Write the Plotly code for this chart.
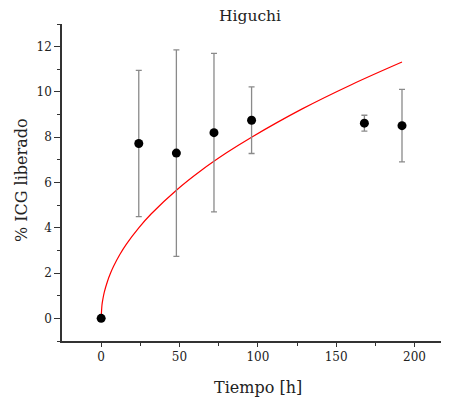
import plotly.graph_objects as go

# Experimental data
time_h = [0, 24, 48, 72, 96, 168, 192]
icg_pct = [0.0, 7.72, 7.30, 8.20, 8.75, 8.62, 8.51]
icg_err = [0.0, 3.23, 4.56, 3.50, 1.47, 0.35, 1.60]

# Higuchi fit curve
fit_t = [0, 0.5, 1, 2, 4, 6, 8, 12, 16, 24, 32, 48, 64, 80, 96, 128, 160, 192]
fit_y = [0, 0.58, 0.82, 1.16, 1.63, 2.0, 2.31, 2.83, 3.27, 4.0, 4.62, 5.66, 6.54, 7.31, 8.0, 9.24, 10.33, 11.32]

x_ticks = [0, 50, 100, 150, 200]
y_ticks = [0, 2, 4, 6, 8, 10, 12]

FONT = "DejaVu Serif"
TXT = "#222"

fig = go.Figure()
fig.add_trace(go.Scatter(
    x=fit_t, y=fit_y, mode="lines",
    line=dict(color="#ff0000", width=1.2, shape="spline"),
    showlegend=False, hoverinfo="skip"))
fig.add_trace(go.Scatter(
    x=time_h, y=icg_pct, mode="markers",
    marker=dict(color="black", size=9),
    error_y=dict(type="data", array=icg_err, visible=True,
                 color="#8a8a8a", thickness=1.3, width=3),
    showlegend=False))

fig.update_layout(
    width=441, height=395,
    margin=dict(l=54, r=0, t=16, b=62),
    paper_bgcolor="white", plot_bgcolor="white",
    font=dict(family=FONT, color=TXT, size=12),
    annotations=[
        dict(text="Higuchi", xref="paper", yref="paper", x=0.486, y=1.025,
             xanchor="center", yanchor="middle", showarrow=False,
             font=dict(family=FONT, size=15.5, color=TXT)),
        dict(text="Tiempo [h]", xref="paper", yref="paper", x=0.5065, y=-0.148,
             xanchor="center", yanchor="middle", showarrow=False,
             font=dict(family=FONT, size=16, color=TXT)),
        dict(text="% ICG liberado", xref="paper", yref="paper", x=-0.103, y=0.508,
             xanchor="center", yanchor="middle", showarrow=False, textangle=-90,
             font=dict(family=FONT, size=16, color=TXT)),
    ],
)
fig.update_xaxes(
    range=[-25, 222], tickvals=x_ticks, showgrid=False, zeroline=False,
    automargin=False,
    showline=True, linecolor="#333", linewidth=1.5,
    ticks="outside", ticklen=4, tickcolor="#333", tickwidth=1.2,
    minor=dict(tickvals=[25, 75, 125, 175], ticks="outside", ticklen=3, tickcolor="#333"),
)
fig.update_yaxes(
    range=[-1, 13], tickvals=y_ticks, showgrid=False, zeroline=False,
    automargin=False,
    showline=True, linecolor="#333", linewidth=1.5,
    ticks="outside", ticklen=6, tickcolor="#333", tickwidth=1.2,
    minor=dict(tickvals=[-1, 1, 3, 5, 7, 9, 11, 13], ticks="outside", ticklen=3, tickcolor="#333"),
)

fig.write_html("out.html")
